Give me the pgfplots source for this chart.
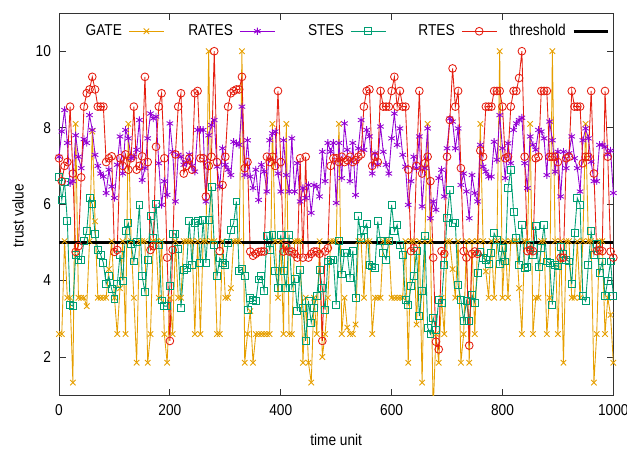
\documentclass[border=0pt]{standalone}
\usepackage{fontspec}
\setmainfont{Liberation Sans}[FakeStretch=0.87]
\usepackage{pgfplots}
\usepackage{pgfplotstable}
\pgfplotsset{compat=1.18}

\definecolor{cgate}{HTML}{E69F00}
\definecolor{crates}{HTML}{9400D3}
\definecolor{cstes}{HTML}{009E73}
\definecolor{crtes}{HTML}{E51E10}

% time, GATE, RATES, STES, RTES
\pgfplotstableread{
t G P S R
0 2.6 7.24 6.72 7.2
5 2.6 7.9 6.11 6.6
10 5.03 8.46 6.59 7.0
15 3.55 7.6 5.55 7.1
20 3.55 6.55 3.37 8.55
25 1.33 6.6 3.33 6.8
30 8.1 7.8 4.68 4.75
35 3.55 7.24 4.55 4.9
40 3.55 6.94 4.55 6.7
45 3.55 7.7 5.03 8.55
50 3.33 7.6 5.29 8.9
55 5.03 8.33 6.16 9.0
60 7.9 7.94 6.0 9.33
65 5.55 7.29 5.22 9.0
70 3.55 7.0 4.81 8.55
75 3.55 6.8 4.68 8.55
80 3.55 6.72 4.46 8.55
85 3.55 6.29 3.9 7.1
90 4.3 6.9 4.11 7.2
95 5.03 6.46 3.77 7.25
100 3.55 6.16 3.52 4.75
105 2.6 7.03 3.9 4.8
110 3.8 7.77 4.68 7.2
115 5.03 6.8 4.0 7.0
120 2.6 7.94 5.31 7.3
125 8.1 7.72 5.5 6.9
130 5.03 7.2 4.96 7.2
135 3.55 7.24 4.5 8.55
140 1.85 7.42 5.0 6.9
145 5.03 8.2 5.98 7.0
150 5.03 6.63 4.11 7.25
155 5.03 6.94 3.7 9.33
160 1.85 7.72 4.55 7.1
165 2.6 8.37 5.68 4.8
170 5.03 8.24 5.11 4.9
175 5.03 8.29 6.0 7.5
180 3.55 7.07 4.92 8.55
185 5.03 5.98 3.48 8.9
190 2.6 6.6 3.33 7.2
195 1.85 6.24 3.33 4.6
200 3.55 8.11 3.85 2.42
205 2.6 7.37 5.22 4.8
210 5.03 6.07 5.22 7.3
215 3.55 7.29 4.83 8.55
220 3.55 7.24 3.29 8.9
225 5.03 7.03 4.29 6.8
230 5.03 7.1 4.33 7.0
235 5.03 7.3 5.55 7.2
240 5.03 7.0 4.4 6.9
245 2.6 6.85 5.5 8.9
250 5.03 7.94 5.55 8.96
255 2.6 7.94 4.46 7.2
260 5.03 7.94 5.59 7.2
265 5.03 6.07 4.46 6.2
270 10 7.8 5.59 7.0
275 5.03 8.07 6.46 7.24
280 5.03 8.2 4.94 10
285 2.6 6.98 4.11 7.1
290 2.6 6.46 4.59 4.77
295 5.03 7.46 4.46 6.5
300 3.55 7.03 4.42 7.24
305 3.55 6.9 4.98 8.55
310 3.8 6.76 5.33 8.9
315 5.03 7.63 5.5 8.96
320 5.03 7.59 6.07 9.0
325 5.03 7.55 4.24 9.0
330 10 8.55 4.3 9.33
335 1.85 6.76 4.11 6.94
340 2.6 7.67 3.24 7.1
345 3.2 6.72 3.55 4.76
350 1.85 6.42 3.5 4.65
355 2.6 6.9 3.46 4.7
360 2.6 6.11 4.03 4.75
365 2.6 7.03 4.11 4.76
370 2.6 6.85 3.72 4.76
375 2.6 6.33 5.16 7.24
380 2.6 7.67 4.81 7.1
385 8.1 7.85 5.2 7.24
390 5.03 7.9 4.24 7.0
395 3.55 6.8 3.81 8.96
400 5.03 6.33 5.2 7.1
405 2.6 7.67 4.24 4.76
410 8.1 6.76 3.81 4.9
415 2.6 6.33 5.2 4.76
420 2.6 7.72 3.81 4.76
425 5.03 6.33 4.05 4.7
430 5.03 7.07 3.2 4.6
435 5.03 6.07 4.29 7.2
440 1.85 6.42 3.29 4.6
445 3.55 6.16 2.42 7.24
450 1.85 6.5 3.46 4.6
455 1.33 5.77 2.9 4.7
460 3.55 6.5 3.29 4.76
465 2.6 6.46 3.6 4.76
470 5.03 6.2 4.29 4.7
475 2.0 7.37 3.81 2.42
480 2.6 6.6 3.24 4.76
485 3.55 7.6 4.5 4.85
490 5.03 7.37 4.55 7.0
495 5.03 7.6 4.55 7.2
500 5.03 6.03 3.37 7.2
505 8.1 7.6 5.03 7.1
510 2.6 6.68 4.16 7.24
515 3.55 8.11 4.72 7.1
520 2.77 7.42 4.72 7.15
525 2.6 6.6 4.07 7.24
530 2.6 7.6 4.78 7.1
535 2.85 6.24 3.55 7.15
540 5.03 7.46 5.68 7.24
545 5.03 8.2 5.11 7.3
550 3.55 7.42 5.33 8.55
555 5.03 7.94 5.48 8.96
560 5.03 7.77 4.42 9.0
565 2.6 6.8 4.37 7.0
570 3.55 7.33 4.33 7.24
575 3.55 7.03 5.55 7.1
580 3.55 8.03 5.03 8.96
585 5.03 7.37 4.72 8.55
590 5.03 7.03 4.55 8.55
595 5.03 6.8 5.04 8.55
600 3.55 7.72 5.98 8.96
605 3.55 8.37 5.29 9.33
610 3.55 7.55 5.46 8.55
615 3.55 7.98 4.94 8.96
620 3.55 7.29 4.68 8.55
625 5.03 6.98 3.5 8.55
630 1.85 5.98 3.37 6.9
635 5.03 6.6 3.85 4.77
640 5.03 7.24 4.11 4.85
645 2.85 6.94 4.78 7.0
650 5.03 7.77 3.07 8.96
655 1.33 5.94 3.72 6.8
660 5.03 6.94 5.16 7.07
665 8.1 7.98 2.77 7.24
670 5.03 5.63 2.6 6.6
675 0.6 6.07 3.03 4.6
680 2.6 5.85 2.72 2.4
685 1.85 6.68 3.5 2.2
690 3.55 6.9 3.42 4.77
695 2.6 6.2 4.42 4.7
700 5.03 7.46 5.63 7.24
705 5.03 8.24 6.37 8.2
710 4.3 8.16 5.5 9.55
715 3.55 7.46 5.5 8.55
720 5.03 7.98 3.88 8.96
725 1.85 6.5 3.5 6.94
730 2.6 6.8 2.94 4.77
735 5.03 6.33 3.46 4.6
740 1.85 5.63 2.94 2.3
745 5.03 6.76 3.63 4.7
750 2.6 6.29 3.42 4.76
755 5.03 6.07 4.2 4.7
760 8.1 7.55 4.76 7.4
765 5.03 6.98 4.59 7.24
770 4.24 6.85 4.55 8.55
775 3.55 6.72 4.44 8.55
780 5.03 6.72 4.72 8.55
785 3.55 7.63 5.24 8.96
790 5.03 7.16 5.07 8.96
795 10 8.33 4.44 8.96
800 3.55 7.46 4.85 8.55
805 5.03 6.68 4.5 7.2
810 3.55 7.59 6.42 7.24
815 5.03 7.07 6.9 8.55
820 5.03 7.94 5.8 8.96
825 5.03 8.11 5.11 8.96
830 3.8 8.2 4.42 9.3
835 2.6 8.26 5.46 10
840 5.03 7.07 4.33 7.24
845 5.03 6.42 4.35 4.77
850 8.1 7.77 4.94 4.8
855 2.6 7.55 4.68 4.77
860 3.55 7.42 5.42 7.2
865 3.55 7.94 4.35 7.24
870 5.03 7.9 4.85 8.96
875 5.03 7.72 5.46 8.96
880 2.6 6.76 4.5 8.96
885 3.55 8.16 4.46 7.24
890 10 7.67 3.37 7.24
895 5.03 6.85 4.4 7.24
900 2.6 7.37 4.37 7.1
905 5.03 6.2 4.87 4.6
910 1.85 7.37 4.7 4.6
915 5.03 6.94 4.55 7.2
920 5.03 7.33 4.5 7.24
925 3.55 7.77 3.9 8.96
930 3.55 7.2 5.24 8.55
935 5.03 6.94 6.16 8.55
940 3.55 6.33 5.98 8.55
945 5.03 7.67 3.59 7.07
950 8.1 7.98 3.46 7.24
955 5.03 7.72 4.42 7.24
960 5.03 7.11 5.29 8.96
965 1.33 6.6 4.68 6.8
970 2.6 6.6 4.96 4.77
975 5.03 7.55 4.2 4.8
980 5.03 7.55 4.5 4.77
985 2.6 7.5 3.59 8.96
990 3.55 7.3 4.0 7.24
995 3.1 7.4 4.5 4.76
1000 1.85 6.29 3.59 4.6
}\trust

\pgfplotstableread{
t v
0 5
1000 5
}\threshold

\begin{document}
\begin{tikzpicture}
\begin{axis}[
  scale only axis,
  width=415.5pt, height=286.5pt,
  xmin=0, xmax=1000, ymin=1, ymax=11,
  xtick={0,200,400,600,800,1000},
  ytick={2,4,6,8,10},
  tick align=inside,
  major tick length=5pt,
  axis line style={black!80, line width=0.6pt},
  tick style={black!80, line width=0.6pt},
  /pgf/number format/assume math mode=true,
  /pgf/number format/1000 sep={},
  tick label style={font=\fontsize{11.8}{13}\selectfont},
  xticklabel style={yshift=-3.5pt},
  yticklabel style={xshift=-2.5pt},
  xlabel={time unit},
  ylabel={trust value},
  every axis x label/.style={at={(axis description cs:0.5,-0.118)},
    anchor=center, font=\fontsize{11.8}{13}\selectfont},
  every axis y label/.style={at={(axis description cs:-0.074,0.47)},
    anchor=center, rotate=90, font=\fontsize{11.8}{13}\selectfont},
  every axis plot/.append style={line width=0.65pt},
  legend columns=5,
  legend plot pos=right,
  legend image code/.code={%
    \draw[mark repeat=2, mark phase=2, #1]
      plot coordinates {(0pt,0pt) (13pt,0pt) (26pt,0pt)};},
  legend style={
    draw=none, fill=none,
    at={(0.0144,0.974)}, anchor=north west,
    inner sep=0pt,
    font=\fontsize{11.8}{13}\selectfont,
    nodes={inner sep=1pt},
    /tikz/every odd column/.append style={column sep=4pt},
    /tikz/every even column/.append style={column sep=10.5pt},
  },
]
\addplot[color=cgate, mark=x, mark size=2.9pt, mark options={solid}]
  table[x=t, y=G] {\trust};
\addlegendentry{\makebox[40pt][r]{GATE}}
\addplot[color=crates, mark=asterisk, mark size=2.8pt, mark options={solid}]
  table[x=t, y=P] {\trust};
\addlegendentry{\makebox[40pt][r]{RATES}}
\addplot[color=cstes, mark=square, mark size=2.6pt, mark options={solid}]
  table[x=t, y=S] {\trust};
\addlegendentry{\makebox[40pt][r]{STES}}
\addplot[color=crtes, mark=o, mark size=2.9pt, mark options={solid}]
  table[x=t, y=R] {\trust};
\addlegendentry{\makebox[40pt][r]{RTES}}
\addplot[color=black, line width=2pt, no marks]
  table[x=t, y=v] {\threshold};
\addlegendentry{\makebox[40pt][r]{threshold}}
\end{axis}
\pgfresetboundingbox
\path (current axis.south west) ++(-44.25pt,-41.25pt) rectangle ++(470pt,337.5pt);
\end{tikzpicture}
\end{document}
